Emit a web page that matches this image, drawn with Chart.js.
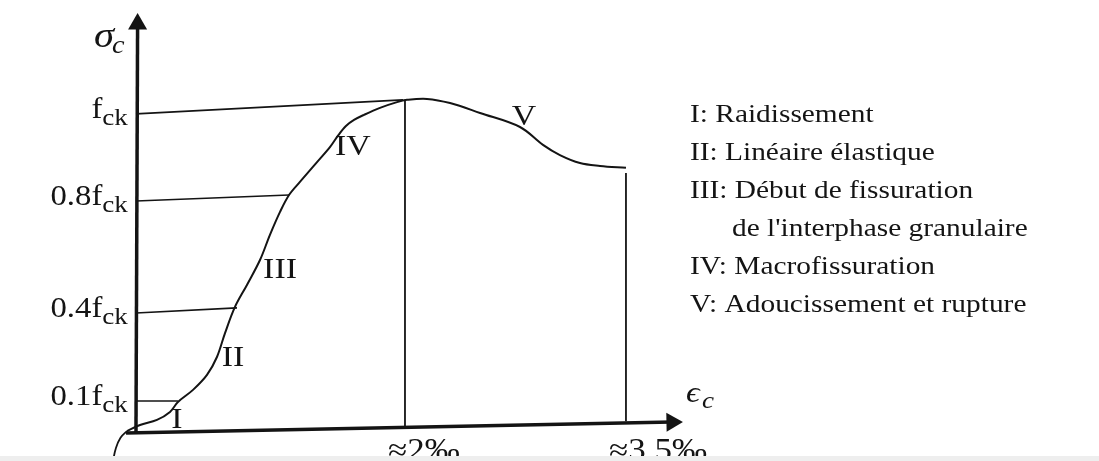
<!DOCTYPE html>
<html>
<head>
<meta charset="utf-8">
<script src="https://cdn.jsdelivr.net/npm/chart.js@4.4.0/dist/chart.umd.min.js"></script>
<style>
  body { margin: 0; background: #fff; }
  #wrap { position: relative; width: 1099px; height: 461px; }
  #strip { position: absolute; left: 0; right: 0; bottom: 0; height: 5px; background: #eeeeee; }
</style>
</head>
<body>
<div id="wrap">
  <canvas id="myChart" width="1099" height="461"></canvas>
  <div id="strip"></div>
</div>
<script>
// strain (‰, schematic) and stress (fraction of fck)
const strainX = [-0.067, 0.03, 0.156, 0.253, 0.312, 0.424, 0.528, 0.602, 0.662, 0.736, 0.825, 0.922,
  0.996, 1.071, 1.138, 1.219, 1.346, 1.442, 1.502, 1.561, 1.621, 1.695, 1.814, 1.941, 2.015, 2.164,
  2.335, 2.558, 2.855, 3.026, 3.152, 3.301, 3.45, 3.643];
const stressY = [0.003, 0.022, 0.038, 0.063, 0.094, 0.132, 0.179, 0.235, 0.31, 0.392, 0.461, 0.539,
  0.618, 0.69, 0.743, 0.784, 0.846, 0.893, 0.929, 0.959, 0.978, 0.994, 1.016, 1.034, 1.041, 1.044,
  1.031, 1.0, 0.956, 0.9, 0.868, 0.843, 0.834, 0.828];

// little hook under the origin
const hookX = [-0.067, -0.115, -0.149, -0.171];
const hookY = [0.003, -0.018, -0.05, -0.091];

// horizontal guides from the stress axis to the curve
const stressTickLevels = [0.997, 0.724, 0.373, 0.097];
const stressTickLabels = ["f", "0.8f", "0.4f", "0.1f"];
const guideEndX = [1.985, 1.138, 0.751, 0.312];
const guideEndY = [1.041, 0.743, 0.389, 0.097];

// vertical drops to the strain axis
const strainTicks = [2.0, 3.643];
const strainTickLabels = ["≈2‰", "≈3.5‰"];
const dropBottom = [0.019, 0.034];
const dropTop = [1.041, 0.812];

// phase markers on the curve
const phaseLabels = ["I", "II", "III", "IV", "V"];
const phaseX = [0.305, 0.721, 1.071, 1.613, 2.885];
const phaseY = [0.047, 0.241, 0.517, 0.903, 0.997];
const phaseNames = [
  "I: Raidissement",
  "II: Linéaire élastique",
  "III: Début de fissuration",
  "de l'interphase granulaire",
  "IV: Macrofissuration",
  "V: Adoucissement et rupture"
];

const ink = "#141414";
const serif = "'Liberation Serif', 'DejaVu Serif', serif";
const stretch = 1.13;

function pts(xs, ys) {
  return xs.map((x, i) => ({ x: x, y: ys[i] }));
}

function line(data, width) {
  return { data: data, showLine: true, borderColor: ink, borderWidth: width, pointRadius: 0, tension: 0 };
}

const datasets = [];
datasets.push(Object.assign(line(pts(strainX, stressY), 2), { tension: 0.35 }));
datasets.push(Object.assign(line(pts(hookX, hookY), 1.8), { tension: 0.4 }));
stressTickLevels.forEach((lv, i) => {
  datasets.push(line([{ x: 0, y: lv }, { x: guideEndX[i], y: guideEndY[i] }], 1.6));
});
strainTicks.forEach((t, i) => {
  datasets.push(line([{ x: t, y: dropBottom[i] }, { x: t, y: dropTop[i] }], 1.8));
});
// axes with arrow heads
datasets.push(Object.assign(line([{ x: -0.074, y: -0.003 }, { x: 3.985, y: 0.031 }], 3.5), {
  pointRadius: [0, 11], pointStyle: "triangle", pointRotation: 89,
  pointBackgroundColor: ink, pointBorderWidth: 0
}));
datasets.push(Object.assign(line([{ x: 0, y: -0.003 }, { x: 0.012, y: 1.279 }], 3.5), {
  pointRadius: [0, 11], pointStyle: "triangle", pointRotation: 0,
  pointBackgroundColor: ink, pointBorderWidth: 0
}));

function txt(ctx, s, x, y, font, align) {
  ctx.save();
  ctx.font = font;
  ctx.translate(x, y);
  ctx.scale(stretch, 1);
  ctx.textAlign = align || "left";
  ctx.textBaseline = "alphabetic";
  ctx.fillText(s, 0, 0);
  ctx.restore();
}

function width(ctx, s, font) {
  ctx.save();
  ctx.font = font;
  const w = ctx.measureText(s).width * stretch;
  ctx.restore();
  return w;
}

const annotations = {
  id: "annotations",
  afterDatasetsDraw(chart) {
    const ctx = chart.ctx;
    const xs = chart.scales.x, ys = chart.scales.y;
    ctx.fillStyle = ink;

    // stress axis labels, e.g. 0.8 f_ck
    const right = xs.getPixelForValue(-0.06);
    const mainFont = "29px " + serif, subFont = "24px " + serif;
    stressTickLevels.forEach((lv, i) => {
      const y = ys.getPixelForValue(lv) + 4;
      const wsub = width(ctx, "ck", subFont);
      txt(ctx, "ck", right - wsub, y + 7, subFont, "left");
      txt(ctx, stressTickLabels[i], right - wsub, y, mainFont, "right");
    });

    // strain axis labels
    strainTicks.forEach((t, i) => {
      txt(ctx, strainTickLabels[i], xs.getPixelForValue(t) - 17, chart.height - 1, "31px " + serif, "left");
    });

    // axis titles
    const yTop = ys.getPixelForValue(1.279);
    txt(ctx, "σ", xs.getPixelForValue(0) - 42, yTop + 23, "italic 36px " + serif, "left");
    txt(ctx, "c", xs.getPixelForValue(0) - 24, yTop + 29, "italic 25px " + serif, "left");
    const xEnd = xs.getPixelForValue(3.985);
    const yAx = ys.getPixelForValue(0.031);
    txt(ctx, "ϵ", xEnd + 14, yAx - 20, "italic 30px " + serif, "left");
    txt(ctx, "c", xEnd + 30, yAx - 14, "italic 24px " + serif, "left");

    // phase numerals
    phaseLabels.forEach((p, i) => {
      txt(ctx, p, xs.getPixelForValue(phaseX[i]), ys.getPixelForValue(phaseY[i]) + 11, "30px " + serif, "center");
    });

    // key
    const left = chart.chartArea.left + 690;
    phaseNames.forEach((s, i) => {
      const indent = i === 3 ? 42 : 0;
      txt(ctx, s, left + indent, 122 + i * 38, "26px " + serif, "left");
    });
  }
};

new Chart(document.getElementById("myChart"), {
  type: "scatter",
  data: { datasets: datasets },
  options: {
    responsive: false,
    animation: false,
    devicePixelRatio: 1,
    layout: { padding: 0, autoPadding: false },
    plugins: { legend: { display: false }, tooltip: { enabled: false } },
    scales: {
      x: { type: "linear", display: false, min: -1.011, max: 7.16 },
      y: { type: "linear", display: false, min: -0.0909, max: 1.354 }
    }
  },
  plugins: [annotations]
});
</script>
</body>
</html>
